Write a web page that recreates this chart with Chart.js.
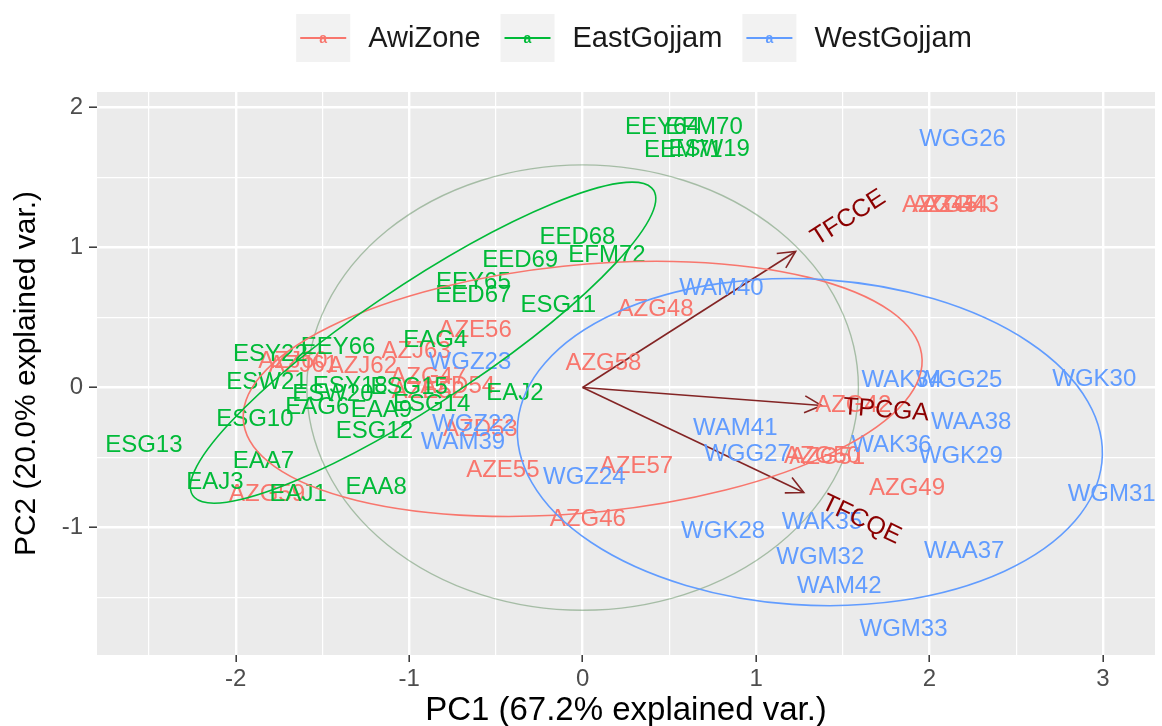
<!DOCTYPE html>
<html>
<head>
<meta charset="utf-8">
<title>PCA biplot</title>
<script src="https://cdn.jsdelivr.net/npm/chart.js@4.4.1/dist/chart.umd.min.js"></script>
<style>
  html, body { margin: 0; padding: 0; background: #ffffff; }
  #wrap { width: 1162px; height: 726px; position: relative; }
</style>
</head>
<body>
<div id="wrap"><canvas id="biplot" width="1162" height="726"></canvas></div>
<script>
// ---- sample scores (PC1, PC2) per zone ----
const awiNames = ['AZG43','AZG44','AZG45','AZG48','AZE56','AZJ63','AZJ62','AZJ60','AZJ61','AZG58','AZG47','AZD54','AZE52','AZD53','AZE55','AZE57','AZG46','AZG59','AZG42','AZG50','AZG51','AZG49'];
const awiPC1 = [2.18,2.12,2.06,0.42,-0.62,-0.96,-1.27,-1.67,-1.61,0.12,-0.89,-0.72,-0.89,-0.59,-0.46,0.31,0.03,-1.82,1.56,1.38,1.41,1.87];
const awiPC2 = [1.30,1.30,1.30,0.56,0.41,0.26,0.15,0.19,0.16,0.17,0.07,0.01,-0.03,-0.30,-0.59,-0.56,-0.94,-0.76,-0.13,-0.49,-0.50,-0.72];

const eastNames = ['EEY64','EFM70','EEM71','ESW19','EED68','EED69','EFM72','EEY65','EED67','ESG11','EAG4','EEY66','ESY22','ESW21','ESY18','ESG15','ESW20','EAJ2','EAG6','EAA9','ESG14','ESG10','ESG12','ESG13','EAA7','EAJ3','EAA8','EAJ1'];
const eastPC1 = [0.46,0.70,0.58,0.73,-0.03,-0.36,0.14,-0.63,-0.63,-0.14,-0.85,-1.41,-1.80,-1.82,-1.34,-1.00,-1.44,-0.39,-1.53,-1.16,-0.87,-1.89,-1.20,-2.53,-1.84,-2.12,-1.19,-1.64];
const eastPC2 = [1.86,1.86,1.69,1.70,1.07,0.91,0.94,0.75,0.66,0.59,0.34,0.29,0.24,0.04,0.01,0.00,-0.05,-0.04,-0.14,-0.16,-0.12,-0.23,-0.31,-0.41,-0.53,-0.68,-0.71,-0.76];

const westNames = ['WGG26','WAM40','WGZ23','WGZ22','WAM39','WAK34','WGG25','WGK30','WAA38','WAM41','WAK36','WGK29','WGG27','WGZ24','WGM31','WAK35','WGK28','WGM32','WAA37','WAM42','WGM33'];
const westPC1 = [2.19,0.80,-0.65,-0.63,-0.69,1.84,2.17,2.95,2.24,0.88,1.78,2.18,0.95,0.01,3.05,1.38,0.81,1.37,2.20,1.48,1.85];
const westPC2 = [1.77,0.71,0.18,-0.26,-0.39,0.05,0.05,0.06,-0.25,-0.29,-0.41,-0.49,-0.48,-0.64,-0.76,-0.96,-1.03,-1.21,-1.17,-1.42,-1.73];

// ---- variable loadings (arrows) ----
const varNames = ['TFCCE','TPCGA','TFCQE'];
const varPC1 = [1.228, 1.378, 1.275];
const varPC2 = [0.971, -0.129, -0.750];

// ---- group normal-data ellipses: centre, semi-axes, rotation (deg) ----
const groupNames = ['AwiZone','EastGojjam','WestGojjam'];
const ellCenterX = [0.00, -0.92, 1.31];
const ellCenterY = [-0.01, 0.32, -0.39];
const ellSemiMajor = [1.97, 1.72, 1.69];
const ellSemiMinor = [0.883, 0.394, 1.163];
const ellAngleDeg = [7.3, 40.0, -5.0];

// ---- correlation circle ----
const circleRadius = 1.59;

// ---- axes ----
const xGridValues = [-2.5,-2,-1.5,-1,-0.5,0,0.5,1,1.5,2,2.5,3];
const yGridValues = [-1.5,-1,-0.5,0,0.5,1,1.5,2];
const xAxisTitle = 'PC1 (67.2% explained var.)';
const yAxisTitle = 'PC2 (20.0% explained var.)';

const groupColors = ['#F8766D', '#00BA38', '#619CFF'];
const FONT = "'Liberation Sans', Arial, Helvetica, sans-serif";

function toPoints(xs, ys) { return xs.map((x, i) => ({ x: x, y: ys[i] })); }

const groupData = [
  { names: awiNames, pts: toPoints(awiPC1, awiPC2) },
  { names: eastNames, pts: toPoints(eastPC1, eastPC2) },
  { names: westNames, pts: toPoints(westPC1, westPC2) }
];

const datasets = [];
// arrow shafts
varNames.forEach((n, i) => {
  datasets.push({
    label: n, kind: 'arrow',
    data: [{ x: 0, y: 0 }, { x: varPC1[i], y: varPC2[i] }],
    showLine: true, borderColor: '#832424', borderWidth: 1.6,
    pointRadius: 0, pointHoverRadius: 0
  });
});
// sample groups (drawn as text labels)
groupData.forEach((g, i) => {
  datasets.push({
    label: groupNames[i], kind: 'group', names: g.names,
    data: g.pts, pointRadius: 0, pointHoverRadius: 0,
    borderColor: groupColors[i], backgroundColor: groupColors[i]
  });
});

function ellipsePath(ctx, chart, cx, cy, a, b, angDeg) {
  const xs = chart.scales.x, ys = chart.scales.y;
  const px0 = xs.getPixelForValue(cx), py0 = ys.getPixelForValue(cy);
  const sx = xs.getPixelForValue(cx + 1) - px0;
  const sy = ys.getPixelForValue(cy + 1) - py0;
  ctx.save();
  ctx.translate(px0, py0);
  ctx.scale(sx, sy);
  ctx.rotate(angDeg * Math.PI / 180);
  ctx.beginPath();
  ctx.ellipse(0, 0, a, b, 0, 0, Math.PI * 2);
  ctx.restore();
}

function clipArea(ctx, area) {
  ctx.beginPath();
  ctx.rect(area.left, area.top, area.right - area.left, area.bottom - area.top);
  ctx.clip();
}

const biplotLayers = {
  id: 'biplotLayers',
  beforeDraw(chart) {
    const { ctx, chartArea: a } = chart;
    ctx.save();
    ctx.fillStyle = '#ffffff';
    ctx.fillRect(0, 0, chart.width, chart.height);
    ctx.fillStyle = '#EBEBEB';
    ctx.fillRect(a.left, a.top, a.right - a.left, a.bottom - a.top);
    ctx.restore();
  },
  beforeDatasetsDraw(chart) {
    const { ctx, chartArea } = chart;
    ctx.save();
    clipArea(ctx, chartArea);
    ellipsePath(ctx, chart, 0, 0, circleRadius, circleRadius, 0);
    ctx.strokeStyle = 'rgba(70,125,70,0.42)';
    ctx.lineWidth = 1.4;
    ctx.stroke();
    ctx.restore();
  },
  afterDatasetsDraw(chart) {
    const { ctx, chartArea } = chart;
    const xs = chart.scales.x, ys = chart.scales.y;
    ctx.save();
    clipArea(ctx, chartArea);

    // arrow heads
    const ox = xs.getPixelForValue(0), oy = ys.getPixelForValue(0);
    ctx.strokeStyle = '#832424';
    ctx.lineWidth = 1.6;
    varNames.forEach((n, i) => {
      const tx = xs.getPixelForValue(varPC1[i]), ty = ys.getPixelForValue(varPC2[i]);
      const ang = Math.atan2(ty - oy, tx - ox);
      const L = 19, spread = 0.46;
      ctx.beginPath();
      ctx.moveTo(tx - L * Math.cos(ang - spread), ty - L * Math.sin(ang - spread));
      ctx.lineTo(tx, ty);
      ctx.lineTo(tx - L * Math.cos(ang + spread), ty - L * Math.sin(ang + spread));
      ctx.stroke();
    });

    // sample labels
    ctx.font = '24px ' + FONT;
    ctx.textAlign = 'center';
    ctx.textBaseline = 'middle';
    chart.data.datasets.forEach(ds => {
      if (ds.kind !== 'group') return;
      ctx.fillStyle = ds.borderColor;
      ds.data.forEach((p, j) => {
        ctx.fillText(ds.names[j], xs.getPixelForValue(p.x), ys.getPixelForValue(p.y));
      });
    });

    // group ellipses
    ctx.lineWidth = 1.6;
    groupNames.forEach((g, i) => {
      ellipsePath(ctx, chart, ellCenterX[i], ellCenterY[i], ellSemiMajor[i], ellSemiMinor[i], ellAngleDeg[i]);
      ctx.strokeStyle = groupColors[i];
      ctx.stroke();
    });

    // variable names along the arrows
    ctx.font = '25px ' + FONT;
    ctx.fillStyle = '#8B0000';
    ctx.textAlign = 'left';
    ctx.textBaseline = 'middle';
    varNames.forEach((n, i) => {
      const tx = xs.getPixelForValue(varPC1[i]), ty = ys.getPixelForValue(varPC2[i]);
      const ang = Math.atan2(ty - oy, tx - ox);
      const w = ctx.measureText(n).width;
      ctx.save();
      ctx.translate(tx, ty);
      ctx.rotate(ang);
      ctx.fillText(n, 0.25 * w, 0);
      ctx.restore();
    });
    ctx.restore();
  },
  afterDraw(chart) {
    // legend across the top
    const { ctx } = chart;
    ctx.save();
    ctx.font = '29px ' + FONT;
    const keyW = 54, keyH = 48, gapKT = 18, gapTK = 20, cy = 38;
    const widths = groupNames.map(n => ctx.measureText(n).width);
    const total = widths.reduce((s, w) => s + keyW + gapKT + w, 0) + gapTK * (groupNames.length - 1);
    let x = 634 - total / 2;
    groupNames.forEach((n, i) => {
      ctx.fillStyle = '#F2F2F2';
      ctx.fillRect(x, cy - keyH / 2, keyW, keyH);
      ctx.strokeStyle = groupColors[i];
      ctx.lineWidth = 2;
      ctx.beginPath();
      ctx.moveTo(x + 4, cy);
      ctx.lineTo(x + keyW - 4, cy);
      ctx.stroke();
      ctx.fillStyle = groupColors[i];
      ctx.font = 'bold 14px ' + FONT;
      ctx.textAlign = 'center';
      ctx.textBaseline = 'middle';
      ctx.fillText('a', x + keyW / 2, cy + 1);
      ctx.font = '29px ' + FONT;
      ctx.fillStyle = '#1A1A1A';
      ctx.textAlign = 'left';
      ctx.fillText(n, x + keyW + gapKT, cy + 1);
      x += keyW + gapKT + widths[i] + gapTK;
    });
    ctx.restore();
  }
};

const isMajor = v => Math.abs(v - Math.round(v)) < 1e-9;

new Chart(document.getElementById('biplot'), {
  type: 'scatter',
  data: { datasets: datasets },
  plugins: [biplotLayers],
  options: {
    responsive: false,
    devicePixelRatio: 1,
    animation: false,
    events: [],
    layout: { padding: { top: 92, right: 7, left: 0, bottom: 0 } },
    plugins: { legend: { display: false }, tooltip: { enabled: false } },
    scales: {
      x: {
        type: 'linear', min: -2.8, max: 3.3,
        afterBuildTicks: ax => { ax.ticks = xGridValues.map(v => ({ value: v })); },
        afterFit: ax => { ax.height = 71; },
        border: { display: false },
        grid: {
          color: '#FFFFFF',
          lineWidth: c => (c.tick && isMajor(c.tick.value)) ? 2.4 : 1.2,
          tickColor: c => (c.tick && isMajor(c.tick.value)) ? '#333333' : 'rgba(0,0,0,0)',
          tickWidth: 1.5, tickLength: 7, drawTicks: true
        },
        ticks: {
          autoSkip: false, maxRotation: 0, padding: 3, color: '#4D4D4D',
          font: { family: FONT, size: 24 },
          callback: v => isMajor(v) ? String(Math.round(v)) : ''
        },
        title: {
          display: true, text: xAxisTitle, color: '#000000',
          font: { family: FONT, size: 33, lineHeight: 1 },
          padding: { top: 0, bottom: -1 }
        }
      },
      y: {
        type: 'linear', min: -1.91, max: 2.11,
        afterBuildTicks: ax => { ax.ticks = yGridValues.map(v => ({ value: v })); },
        afterFit: ax => { ax.width = 97; },
        border: { display: false },
        grid: {
          color: '#FFFFFF',
          lineWidth: c => (c.tick && isMajor(c.tick.value)) ? 2.4 : 1.2,
          tickColor: c => (c.tick && isMajor(c.tick.value)) ? '#333333' : 'rgba(0,0,0,0)',
          tickWidth: 1.5, tickLength: 8, drawTicks: true
        },
        ticks: {
          autoSkip: false, padding: 6, color: '#4D4D4D',
          font: { family: FONT, size: 24 },
          callback: v => isMajor(v) ? String(Math.round(v)) : ''
        },
        title: {
          display: true, text: yAxisTitle, color: '#000000',
          font: { family: FONT, size: 30, lineHeight: 1 },
          padding: { top: 12, bottom: 0 }
        }
      }
    }
  }
});
</script>
</body>
</html>
